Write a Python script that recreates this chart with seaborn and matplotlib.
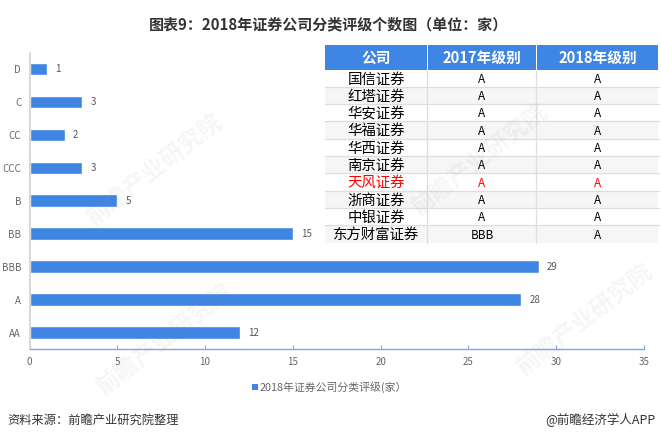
import matplotlib
matplotlib.use("Agg")
import matplotlib.pyplot as plt
from matplotlib.patches import Rectangle
import pandas as pd
import seaborn as sns

# ── Data ──────────────────────────────────────────────────────────────────────
ratings = ["D", "C", "CC", "CCC", "B", "BB", "BBB", "A", "AA"]
counts = [1, 3, 2, 3, 5, 15, 29, 28, 12]
x_ticks = [0, 5, 10, 15, 20, 25, 30, 35]

table_header = ["公司", "2017年级别", "2018年级别"]
companies = ["国信证券", "红塔证券", "华安证券", "华福证券", "华西证券",
             "南京证券", "天风证券", "浙商证券", "中银证券", "东方财富证券"]
level_2017 = ["A", "A", "A", "A", "A", "A", "A", "A", "A", "BBB"]
level_2018 = ["A", "A", "A", "A", "A", "A", "A", "A", "A", "A"]
highlight = "天风证券"

title = "图表9：2018年证券公司分类评级个数图（单位：家）"
series_name = "2018年证券公司分类评级(家）"
source = "资料来源：前瞻产业研究院整理"
brand = "@前瞻经济学人APP"

# ── Style ─────────────────────────────────────────────────────────────────────
BLUE = "#3f85e3"
W, H = 661, 438

sns.set_theme(style="white")
plt.rcParams["font.family"] = ["Noto Sans CJK SC", "DejaVu Sans"]

fig = plt.figure(figsize=(W / 100, H / 100), dpi=100, facecolor="white")


def px_axes(left, top, right, bottom):
    return fig.add_axes([left / W, 1 - bottom / H, (right - left) / W, (bottom - top) / H])


# ── Bars ──────────────────────────────────────────────────────────────────────
ax = px_axes(29.5, 52.5, 644, 349)
df = pd.DataFrame({"rating": ratings, "count": counts})
sns.barplot(data=df, x="count", y="rating", color=BLUE, saturation=1, width=0.38, ax=ax)
ax.set_xlim(0, 35)
ax.set_xticks(x_ticks)
ax.set_xlabel("")
ax.set_ylabel("")
ax.tick_params(axis="x", direction="in", length=3, width=0.8, color="#7ba7e6", labelsize=7,
               labelcolor="#666666", pad=6, bottom=True)
ax.tick_params(axis="y", length=0, labelsize=7, labelcolor="#666666", pad=6)
for s in ("top", "right"):
    ax.spines[s].set_visible(False)
ax.spines["left"].set_color("#d4d4d4")
ax.spines["bottom"].set_color("#7ba7e6")
ax.spines["bottom"].set_linewidth(1)
ax.bar_label(ax.containers[0], padding=6, fontsize=7, color="#555555")

# ── Page overlay: watermark, title, legend, footer (pixel coordinates) ────────
page = fig.add_axes([0, 0, 1, 1], zorder=5)
page.set_xlim(0, W)
page.set_ylim(H, 0)
page.axis("off")
page.patch.set_alpha(0)

for wx, wy in [(155, 170), (480, 160), (165, 340), (585, 320)]:
    page.text(wx, wy, "前瞻产业研究院", fontsize=17, color="#8a8a8a", alpha=0.08,
              rotation=38, ha="center", va="center", fontweight="bold")

page.text(328, 24, title, fontsize=10.8, fontweight="bold", color="#333333",
          ha="center", va="center")
page.add_patch(Rectangle((252, 384), 6, 6, color=BLUE, lw=0))
page.text(260, 387, series_name, fontsize=7.8, color="#666666", ha="left", va="center")
page.text(7, 420, source, fontsize=8.8, color="#333333", style="italic", ha="left", va="center")
page.text(655, 420, brand, fontsize=9, color="#333333", ha="right", va="center")

# ── Table ─────────────────────────────────────────────────────────────────────
col_edges = [325, 427.5, 536.5, 659]
head_top, head_bottom = 45, 69.5
row_h = 17.3

for c, label in enumerate(table_header):
    l, r = col_edges[c], col_edges[c + 1]
    page.add_patch(Rectangle((l, head_top), r - l - 1, head_bottom - head_top, color=BLUE, lw=0))
    page.text((l + r) / 2, (head_top + head_bottom) / 2 + 0.8, label, fontsize=10.6,
              fontweight="bold", color="white", ha="center", va="center")

rows = zip(companies, level_2017, level_2018)
for i, row in enumerate(rows):
    y0 = head_bottom + i * row_h
    color = "red" if row[0] == highlight else "black"
    for c, label in enumerate(row):
        l, r = col_edges[c], col_edges[c + 1]
        shade = "#f6f6f6" if i % 2 else "white"
        page.add_patch(Rectangle((l, y0), r - l - 1, row_h, color=shade, lw=0))
        page.text((l + r) / 2, y0 + row_h / 2 + 1.2, label, fontsize=10.4 if c == 0 else 8.5,
                  color=color, ha="center", va="center")
    if i < len(companies) - 1:
        page.plot([col_edges[0], col_edges[-1]], [y0 + row_h] * 2, color="#dedede", lw=0.9)

for edge in col_edges[1:3]:
    page.plot([edge - 0.5] * 2, [head_bottom, head_bottom + row_h * len(companies)],
              color="#dedede", lw=0.9)

fig.savefig("out.png", dpi=100, facecolor="white")
